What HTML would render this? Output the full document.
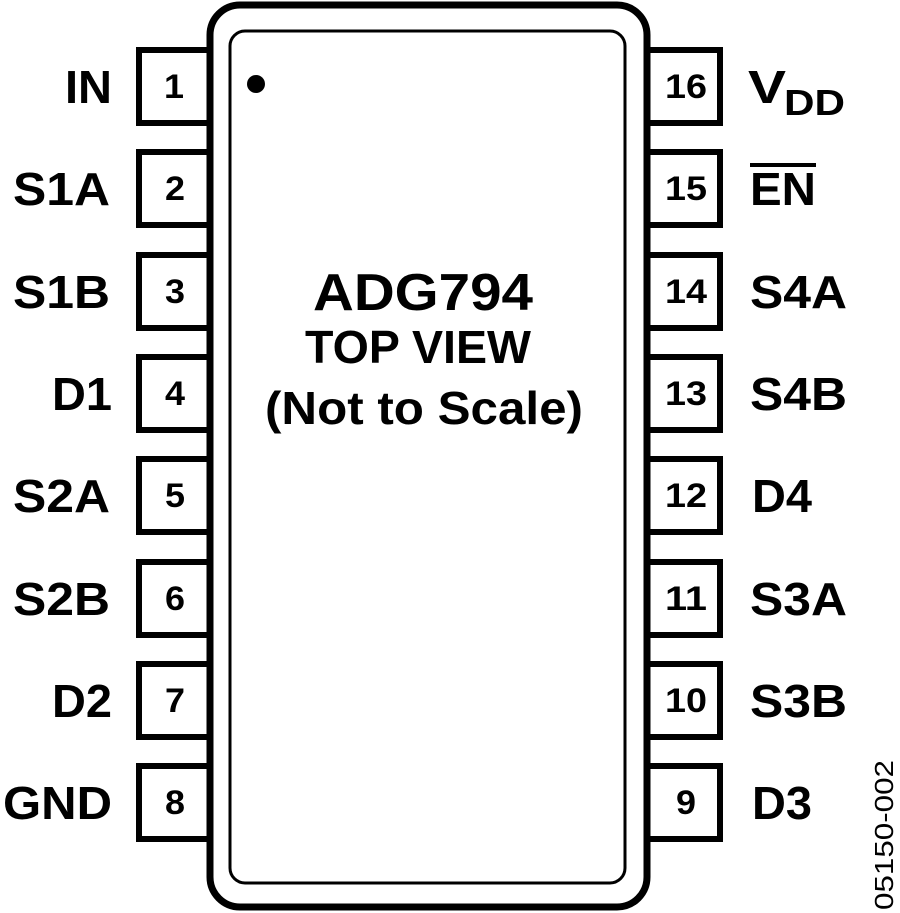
<!DOCTYPE html>
<html><head><style>html,body{margin:0;padding:0;background:#fff}svg{display:block}text{font-family:"Liberation Sans",Arial,sans-serif}</style></head>
<body>
<svg width="900" height="913" viewBox="0 0 900 913" xmlns="http://www.w3.org/2000/svg">
<rect x="210" y="5" width="437" height="902" rx="30" fill="#fff" stroke="#000" stroke-width="7"/>
<rect x="230" y="31" width="395" height="852" rx="15" fill="none" stroke="#000" stroke-width="3"/>
<circle cx="256" cy="84" r="9" fill="#000"/>
<g fill="none" stroke="#000" stroke-width="6">
<path d="M207 50 H139 V123 H207"/>
<path d="M207 152 H139 V225 H207"/>
<path d="M207 255 H139 V328 H207"/>
<path d="M207 357 H139 V430 H207"/>
<path d="M207 459 H139 V532 H207"/>
<path d="M207 562 H139 V635 H207"/>
<path d="M207 664 H139 V737 H207"/>
<path d="M207 766 H139 V839 H207"/>
<path d="M650 50 H720 V123 H650"/>
<path d="M650 152 H720 V225 H650"/>
<path d="M650 255 H720 V328 H650"/>
<path d="M650 357 H720 V430 H650"/>
<path d="M650 459 H720 V532 H650"/>
<path d="M650 562 H720 V635 H650"/>
<path d="M650 664 H720 V737 H650"/>
<path d="M650 766 H720 V839 H650"/>
</g>
<g font-size="34" font-weight="bold" text-anchor="middle">
<text x="174" y="98" textLength="20" lengthAdjust="spacingAndGlyphs">1</text><text x="175" y="200" textLength="20" lengthAdjust="spacingAndGlyphs">2</text><text x="175" y="303" textLength="20" lengthAdjust="spacingAndGlyphs">3</text><text x="175" y="405" textLength="20" lengthAdjust="spacingAndGlyphs">4</text>
<text x="175" y="507" textLength="20" lengthAdjust="spacingAndGlyphs">5</text><text x="175" y="610" textLength="20" lengthAdjust="spacingAndGlyphs">6</text><text x="175" y="712" textLength="20" lengthAdjust="spacingAndGlyphs">7</text><text x="175" y="814" textLength="20" lengthAdjust="spacingAndGlyphs">8</text>
<text x="686" y="98" textLength="42" lengthAdjust="spacingAndGlyphs">16</text><text x="686" y="200" textLength="42" lengthAdjust="spacingAndGlyphs">15</text><text x="686" y="303" textLength="42" lengthAdjust="spacingAndGlyphs">14</text><text x="686" y="405" textLength="42" lengthAdjust="spacingAndGlyphs">13</text>
<text x="686" y="507" textLength="42" lengthAdjust="spacingAndGlyphs">12</text><text x="686" y="610" textLength="42" lengthAdjust="spacingAndGlyphs">11</text><text x="686" y="712" textLength="42" lengthAdjust="spacingAndGlyphs">10</text><text x="686" y="814" textLength="20" lengthAdjust="spacingAndGlyphs">9</text>
</g>
<g font-size="46" font-weight="bold" text-anchor="end">
<text x="112" y="103" textLength="47" lengthAdjust="spacingAndGlyphs">IN</text><text x="110" y="205" textLength="97" lengthAdjust="spacingAndGlyphs">S1A</text><text x="110" y="308" textLength="97" lengthAdjust="spacingAndGlyphs">S1B</text><text x="112" y="410" textLength="60" lengthAdjust="spacingAndGlyphs">D1</text>
<text x="110" y="512" textLength="97" lengthAdjust="spacingAndGlyphs">S2A</text><text x="110" y="615" textLength="97" lengthAdjust="spacingAndGlyphs">S2B</text><text x="112" y="717" textLength="60" lengthAdjust="spacingAndGlyphs">D2</text><text x="112" y="819" textLength="109" lengthAdjust="spacingAndGlyphs">GND</text>
</g>
<g font-size="46" font-weight="bold">
<text x="748" y="103" textLength="38" lengthAdjust="spacingAndGlyphs">V</text><text x="784" y="115" font-size="36" textLength="61" lengthAdjust="spacingAndGlyphs">DD</text>
<text x="750" y="205" textLength="66" lengthAdjust="spacingAndGlyphs">EN</text>
<rect x="750" y="163" width="66" height="4" fill="#000"/>
<text x="750" y="308" textLength="97" lengthAdjust="spacingAndGlyphs">S4A</text><text x="750" y="410" textLength="97" lengthAdjust="spacingAndGlyphs">S4B</text>
<text x="752" y="512" textLength="60" lengthAdjust="spacingAndGlyphs">D4</text><text x="750" y="615" textLength="97" lengthAdjust="spacingAndGlyphs">S3A</text><text x="750" y="717" textLength="97" lengthAdjust="spacingAndGlyphs">S3B</text><text x="752" y="819" textLength="60" lengthAdjust="spacingAndGlyphs">D3</text>
</g>
<g font-weight="bold" text-anchor="middle">
<text x="423" y="310" font-size="52" textLength="220" lengthAdjust="spacingAndGlyphs">ADG794</text>
<text x="418" y="363" font-size="46" textLength="226" lengthAdjust="spacingAndGlyphs">TOP VIEW</text>
<text x="424" y="424" font-size="46" textLength="318" lengthAdjust="spacingAndGlyphs">(Not to Scale)</text>
</g>
<text transform="translate(893,910) rotate(-90)" font-size="26" textLength="150" lengthAdjust="spacingAndGlyphs">05150-002</text>
</svg>
</body></html>
